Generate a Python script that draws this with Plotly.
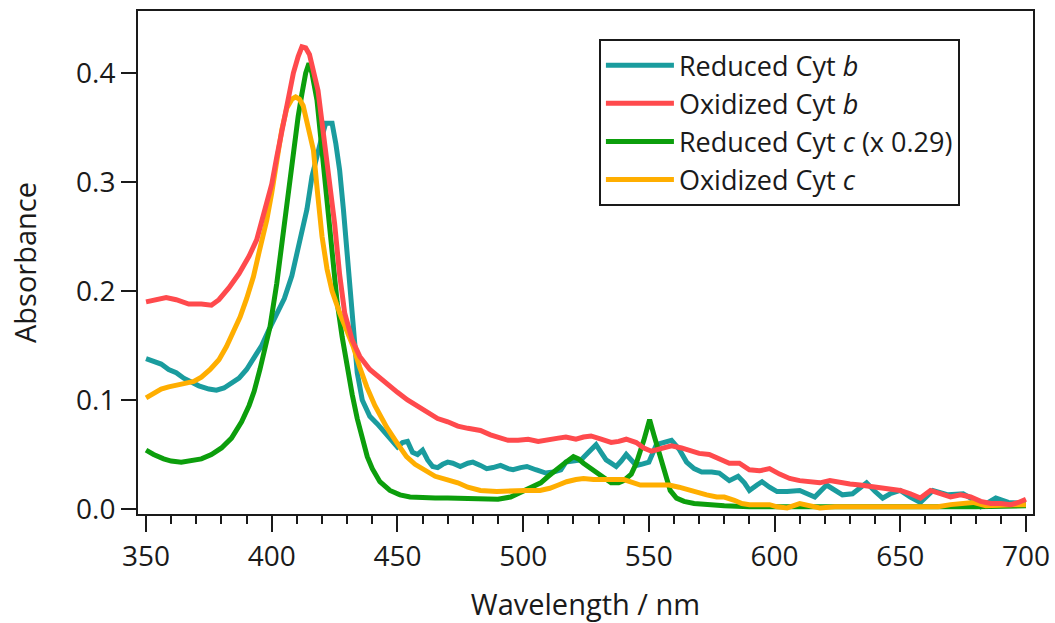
import plotly.graph_objects as go

# ---------------- data ----------------
red_wl = [350, 355, 358, 362, 367, 372, 376, 379, 383, 387, 391, 394, 398, 400, 402, 404, 406, 408.6, 410.5, 412, 413.5,
          415, 418.4, 421.9, 425, 427, 429, 432, 435, 439, 442, 446, 450, 454, 458, 462, 466, 470, 474, 478, 483, 487,
          491, 494, 498, 502, 506, 510, 514, 517, 521, 524, 527, 531, 535, 538, 541, 545, 548, 551, 555, 559, 563, 567,
          570, 574, 578, 582, 586, 590, 594, 598, 602, 606, 610, 614, 618, 622, 626, 630, 634, 638, 642, 646, 650, 654,
          658, 662, 666, 670, 674, 678, 682, 686, 690, 694, 697, 700]
red_abs = [0.190, 0.192, 0.194, 0.192, 0.188, 0.188, 0.187, 0.192, 0.203, 0.216, 0.232, 0.247, 0.280, 0.298, 0.323,
           0.345, 0.369, 0.400, 0.415, 0.424, 0.423, 0.417, 0.384, 0.323, 0.262, 0.215, 0.180, 0.155, 0.140, 0.128,
           0.122, 0.115, 0.107, 0.100, 0.094, 0.088, 0.083, 0.080, 0.076, 0.074, 0.072, 0.068, 0.065, 0.063, 0.063,
           0.064, 0.062, 0.064, 0.065, 0.066, 0.064, 0.066, 0.067, 0.064, 0.061, 0.062, 0.064, 0.061, 0.056, 0.053,
           0.055, 0.058, 0.056, 0.053, 0.051, 0.050, 0.046, 0.042, 0.042, 0.036, 0.035, 0.037, 0.032, 0.028, 0.026,
           0.025, 0.024, 0.026, 0.024, 0.023, 0.022, 0.021, 0.019, 0.018, 0.017, 0.014, 0.010, 0.017, 0.014, 0.011,
           0.013, 0.011, 0.007, 0.005, 0.005, 0.004, 0.006, 0.009]

teal_wl = [350, 353, 356, 359, 362, 365, 368, 371, 375, 378, 381, 384, 387, 390, 393, 396, 399, 402, 405, 408, 410, 412,
           414, 416, 418, 420, 421.5, 424, 425.5, 427, 428.5, 430, 432, 434, 436, 439, 442, 445, 448, 450, 452, 454,
           456, 458, 460, 462, 464, 466, 468, 470, 472, 475, 478, 480, 483, 485.5, 488, 491, 494, 496, 499, 501.5,
           505, 509, 512, 515, 517, 520, 523, 526, 529, 531, 533, 535, 537, 539, 541, 543, 545, 547, 550, 553, 556,
           559, 562, 565, 568, 571, 575, 578, 582, 585.5, 588, 590, 593, 595, 598, 601, 605, 610, 613, 616, 620.7, 624,
           627, 631, 636.6, 640, 643, 646, 650, 654, 658, 663, 669, 675, 678, 682, 688, 693, 696, 700]
teal_abs = [0.138, 0.136, 0.133, 0.128, 0.125, 0.120, 0.116, 0.113, 0.110, 0.109, 0.111, 0.115, 0.120, 0.128, 0.138,
            0.150, 0.165, 0.178, 0.193, 0.214, 0.235, 0.255, 0.275, 0.305, 0.325, 0.342, 0.354, 0.354, 0.335, 0.311,
            0.275, 0.235, 0.170, 0.125, 0.100, 0.085, 0.078, 0.070, 0.061, 0.057, 0.061, 0.062, 0.052, 0.050, 0.054,
            0.045, 0.039, 0.038, 0.041, 0.043, 0.042, 0.039, 0.042, 0.043, 0.040, 0.037, 0.038, 0.040, 0.037, 0.036,
            0.038, 0.039, 0.036, 0.033, 0.034, 0.036, 0.043, 0.044, 0.045, 0.052, 0.059, 0.052, 0.045, 0.042, 0.039,
            0.044, 0.050, 0.045, 0.040, 0.041, 0.043, 0.059, 0.061, 0.063, 0.055, 0.043, 0.037, 0.034, 0.034, 0.033,
            0.026, 0.030, 0.024, 0.017, 0.022, 0.025, 0.020, 0.016, 0.016, 0.017, 0.014, 0.011, 0.022, 0.017, 0.013,
            0.014, 0.024, 0.016, 0.010, 0.014, 0.017, 0.011, 0.006, 0.017, 0.013, 0.014, 0.010, 0.002, 0.010, 0.006,
            0.006, 0.005]

green_wl = [350, 353, 357, 360, 364, 368, 372, 376, 380, 384, 388, 391, 393, 395.3, 397.5, 399.3, 402, 404.6, 406.6,
            408.6, 410.5, 412, 413.5, 414.8, 416, 418, 420, 422, 424, 426, 428, 430, 432, 434, 436, 438, 440, 443, 447,
            451, 455, 460, 465, 470, 480, 490, 495, 499, 503, 507, 510, 513, 517, 520, 522, 524, 527, 530, 533, 535,
            538, 540, 543, 545, 548, 550.3, 552, 554.5, 556.5, 558.5, 561, 564, 568, 573, 580, 590, 600, 610, 620, 640,
            660, 680, 700]
green_abs = [0.054, 0.050, 0.046, 0.044, 0.043, 0.044, 0.046, 0.050, 0.056, 0.065, 0.080, 0.095, 0.108, 0.128, 0.148,
             0.167, 0.207, 0.255, 0.285, 0.330, 0.360, 0.381, 0.400, 0.409, 0.400, 0.375, 0.330, 0.275, 0.230, 0.190,
             0.158, 0.129, 0.105, 0.083, 0.064, 0.048, 0.037, 0.025, 0.017, 0.013, 0.011, 0.010, 0.010, 0.010, 0.009,
             0.009, 0.011, 0.015, 0.019, 0.024, 0.030, 0.036, 0.043, 0.048, 0.046, 0.042, 0.037, 0.032, 0.027, 0.024,
             0.024, 0.026, 0.032, 0.042, 0.063, 0.082, 0.068, 0.048, 0.030, 0.017, 0.010, 0.007, 0.005, 0.004, 0.003,
             0.002, 0.002, 0.001, 0.001, 0.001, 0.001, 0.002, 0.003]

orange_wl = [350, 353, 356, 359, 362, 365, 369, 372, 375.5, 379, 382, 385, 387.4, 390, 392.7, 395, 398, 400, 402, 404,
             406, 408, 409.5, 411, 412.5, 414.6, 416.6, 418, 420, 422, 424, 427, 430, 432.4, 435, 437.8, 441, 445.7,
             450, 453.6, 457, 461.6, 465, 469.6, 474, 478, 483, 489.5, 496, 501, 506.7, 510.6, 514, 517.3, 521, 524,
             528, 533, 540, 546.6, 552, 558, 562, 566.4, 570, 573, 577, 580, 584, 587, 590, 594, 598, 601, 605, 610,
             614, 618, 624, 631, 637, 644, 650, 658, 665, 670, 674, 679, 684, 690, 695, 700]
orange_abs = [0.102, 0.106, 0.110, 0.112, 0.114, 0.115, 0.117, 0.121, 0.128, 0.137, 0.149, 0.163, 0.176, 0.193, 0.213,
              0.236, 0.265, 0.290, 0.318, 0.348, 0.368, 0.376, 0.378, 0.376, 0.370, 0.351, 0.329, 0.295, 0.250, 0.220,
              0.200, 0.180, 0.163, 0.149, 0.130, 0.112, 0.095, 0.075, 0.060, 0.048, 0.041, 0.034, 0.030, 0.027, 0.024,
              0.020, 0.017, 0.016, 0.017, 0.017, 0.017, 0.019, 0.022, 0.025, 0.027, 0.028, 0.027, 0.027, 0.027, 0.022,
              0.022, 0.022, 0.020, 0.017, 0.015, 0.013, 0.011, 0.011, 0.008, 0.005, 0.004, 0.004, 0.004, 0.002, 0.001,
              0.005, 0.003, 0.001, 0.002, 0.002, 0.002, 0.002, 0.002, 0.003, 0.002, 0.004, 0.005, 0.006, 0.003, 0.004,
              0.004, 0.004]

series_names = ["Reduced Cyt <i>b</i>", "Oxidized Cyt <i>b</i>", "Reduced Cyt <i>c</i> (x 0.29)", "Oxidized Cyt <i>c</i>"]
x_ticks = [350, 400, 450, 500, 550, 600, 650, 700]
y_ticks = [0.0, 0.1, 0.2, 0.3, 0.4]

# ---------------- styling ----------------
TEAL, RED, GREEN, ORANGE = "#1A9C9E", "#FF4A4D", "#0C9E0C", "#FFAE00"
FONT = "Open Sans"
INK = "#1a1a1a"
LW = 5

fig = go.Figure()
# draw order: teal, green, orange, red (red on top); legend order via legendrank
fig.add_trace(go.Scatter(x=teal_wl, y=teal_abs, mode="lines", name=series_names[0],
                         line=dict(color=TEAL, width=LW), legendrank=1))
fig.add_trace(go.Scatter(x=green_wl, y=green_abs, mode="lines", name=series_names[2],
                         line=dict(color=GREEN, width=LW), legendrank=3))
fig.add_trace(go.Scatter(x=orange_wl, y=orange_abs, mode="lines", name=series_names[3],
                         line=dict(color=ORANGE, width=LW), legendrank=4))
fig.add_trace(go.Scatter(x=red_wl, y=red_abs, mode="lines", name=series_names[1],
                         line=dict(color=RED, width=LW), legendrank=2))

fig.update_layout(
    width=1055, height=623,
    margin=dict(l=138, r=22, t=11, b=109, autoexpand=False),
    paper_bgcolor="white", plot_bgcolor="white",
    font=dict(family=FONT, size=28, color=INK),
    showlegend=True,
    legend=dict(
        x=0.515, y=0.944, xanchor="left", yanchor="top",
        bordercolor=INK, borderwidth=2, bgcolor="white",
        font=dict(family=FONT, size=27, color=INK),
        itemwidth=68, tracegroupgap=0,
    ),
)

fig.update_xaxes(
    range=[346.8, 702.8], tickvals=x_ticks, ticktext=[str(v) for v in x_ticks],
    ticks="outside", ticklen=16, tickwidth=2, tickcolor=INK,
    minor=dict(dtick=10, tick0=350, ticks="outside", ticklen=8, tickwidth=2, tickcolor=INK),
    showline=True, linewidth=2, linecolor=INK, mirror=True,
    showgrid=False, zeroline=False,
    tickfont=dict(family=FONT, size=28, color=INK),
    title=dict(text="Wavelength / nm", font=dict(family=FONT, size=29, color=INK), standoff=22),
)
fig.update_yaxes(
    range=[-0.0046, 0.4569], tickvals=y_ticks, ticktext=[f"{v:.1f}" for v in y_ticks],
    ticks="outside", ticklen=15, tickwidth=2, tickcolor=INK,
    showline=True, linewidth=2, linecolor=INK, mirror=True,
    showgrid=False, zeroline=False,
    tickfont=dict(family=FONT, size=28, color=INK),
    title=dict(text="Absorbance", font=dict(family=FONT, size=29, color=INK), standoff=31),
)

fig.write_html("out.html")
